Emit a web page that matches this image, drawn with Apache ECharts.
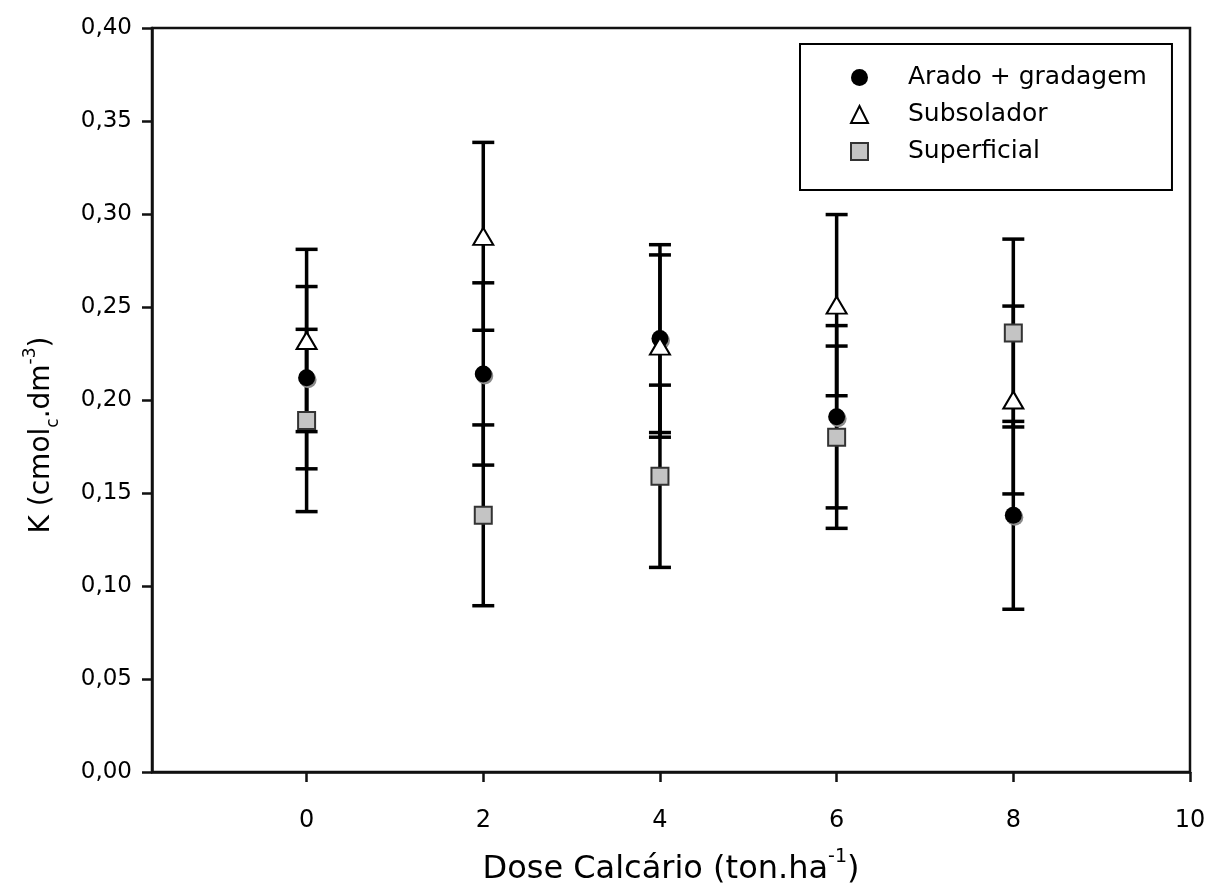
<!DOCTYPE html>
<html>
<head>
<meta charset="utf-8">
<script src="https://cdn.jsdelivr.net/npm/echarts@6/dist/echarts.min.js"></script>
<style>
html,body{margin:0;padding:0;background:#fff;}
#chart{width:1209px;height:891px;}
</style>
</head>
<body>
<div id="chart"></div>
<script>
const doses = [0, 2, 4, 6, 8];
const xTicks = [0, 2, 4, 6, 8, 10];
const aradoMean = [0.212, 0.214, 0.233, 0.191, 0.138];
const aradoErr = [0.049, 0.049, 0.0505, 0.049, 0.0505];
const subsoladorMean = [0.232, 0.288, 0.229, 0.251, 0.200];
const subsoladorErr = [0.049, 0.0505, 0.049, 0.0487, 0.0505];
const superficialMean = [0.189, 0.138, 0.159, 0.180, 0.236];
const superficialErr = [0.049, 0.0486, 0.049, 0.049, 0.0505];
const seriesNames = ['Arado + gradagem', 'Subsolador', 'Superficial'];

const FONT = 'DejaVu Sans';

function pts(means) { return doses.map((d, i) => [d, means[i]]); }
function errData(means, errs) { return doses.map((d, i) => [d, means[i] - errs[i], means[i] + errs[i]]); }

function errorSeries(means, errs) {
  return {
    type: 'custom',
    silent: true,
    z: 2,
    data: errData(means, errs),
    renderItem: function (params, api) {
      const x = api.value(0);
      const lo = api.coord([x, api.value(1)]);
      const hi = api.coord([x, api.value(2)]);
      const hw = 11;
      const style = { stroke: '#000', lineWidth: 3.5, fill: null };
      return {
        type: 'group',
        children: [
          { type: 'line', shape: { x1: lo[0], y1: lo[1], x2: hi[0], y2: hi[1] }, style: style },
          { type: 'line', shape: { x1: lo[0] - hw, y1: lo[1], x2: lo[0] + hw, y2: lo[1] }, style: style },
          { type: 'line', shape: { x1: hi[0] - hw, y1: hi[1], x2: hi[0] + hw, y2: hi[1] }, style: style }
        ]
      };
    }
  };
}

const chart = echarts.init(document.getElementById('chart'), null, { renderer: 'canvas' });
chart.setOption({
  animation: false,
  backgroundColor: '#fff',
  grid: { left: 152, right: 19, top: 28, bottom: 116, show: true, borderColor: '#111', borderWidth: 2.5, backgroundColor: 'transparent' },
  legend: {
    data: seriesNames,
    orient: 'vertical',
    left: 800, top: 44,
    padding: [21, 25, 26, 50],
    itemGap: 12,
    itemWidth: 17, itemHeight: 17,
    borderColor: '#000', borderWidth: 2,
    selectedMode: false,
    formatter: name => '{t|' + name + '}',
    textStyle: {
      fontFamily: FONT, fontSize: 25, color: '#000',
      rich: { t: { fontFamily: FONT, fontSize: 25, lineHeight: 25, color: '#000', padding: [0, 0, 0, 35] } }
    }
  },
  xAxis: {
    type: 'value',
    min: -1.75, max: 10,
    splitLine: { show: false },
    axisLine: { onZero: false, lineStyle: { color: '#111', width: 2.5 } },
    axisTick: { show: true, length: 10, lineStyle: { color: '#111', width: 2.5 }, customValues: xTicks },
    axisLabel: { customValues: xTicks, margin: 37, fontFamily: FONT, fontSize: 24, color: '#000' },
    name: '{n|Dose Calcário (ton.ha}{sup|-1}{n|)}',
    nameLocation: 'middle',
    nameGap: 76,
    nameTextStyle: {
      fontFamily: FONT, color: '#000',
      rich: {
        n: { fontFamily: FONT, fontSize: 32, lineHeight: 44, color: '#000' },
        sup: { fontFamily: FONT, fontSize: 19, lineHeight: 19, verticalAlign: 'top', color: '#000' }
      }
    }
  },
  yAxis: {
    type: 'value',
    min: 0, max: 0.4, interval: 0.05,
    splitLine: { show: false },
    axisLine: { onZero: false, lineStyle: { color: '#111', width: 2.5 } },
    axisTick: { show: true, length: 10, lineStyle: { color: '#111', width: 2.5 } },
    axisLabel: {
      margin: 20, fontFamily: FONT, fontSize: 23, color: '#000',
      formatter: v => v.toFixed(2).replace('.', ',')
    },
    name: '{n|K (cmol}{sub|c}{n|.dm}{sup|-3}{n|)}',
    nameLocation: 'middle',
    nameGap: 90,
    nameTextStyle: {
      fontFamily: FONT, color: '#000',
      padding: [0, 70, 0, 0],
      rich: {
        n: { fontFamily: FONT, fontSize: 28, lineHeight: 40, color: '#000' },
        sub: { fontFamily: FONT, fontSize: 17, lineHeight: 17, verticalAlign: 'bottom', color: '#000' },
        sup: { fontFamily: FONT, fontSize: 17, lineHeight: 17, verticalAlign: 'top', color: '#000' }
      }
    }
  },
  series: [
    errorSeries(aradoMean, aradoErr),
    errorSeries(subsoladorMean, subsoladorErr),
    errorSeries(superficialMean, superficialErr),
    {
      name: seriesNames[0], type: 'scatter', z: 5,
      symbol: 'circle', symbolSize: 17,
      itemStyle: { color: '#000', opacity: 1, shadowColor: '#8a8a8a', shadowBlur: 0, shadowOffsetX: 1.5, shadowOffsetY: 2 },
      data: pts(aradoMean)
    },
    {
      name: seriesNames[1], type: 'scatter', z: 5,
      symbol: 'triangle', symbolSize: [20, 17],
      itemStyle: { color: '#fff', opacity: 1, borderColor: '#000', borderWidth: 2 },
      data: pts(subsoladorMean)
    },
    {
      name: seriesNames[2], type: 'scatter', z: 5,
      symbol: 'rect', symbolSize: 17,
      itemStyle: { color: '#c4c4c4', opacity: 1, borderColor: '#333', borderWidth: 2 },
      data: pts(superficialMean)
    }
  ]
});
</script>
</body>
</html>
